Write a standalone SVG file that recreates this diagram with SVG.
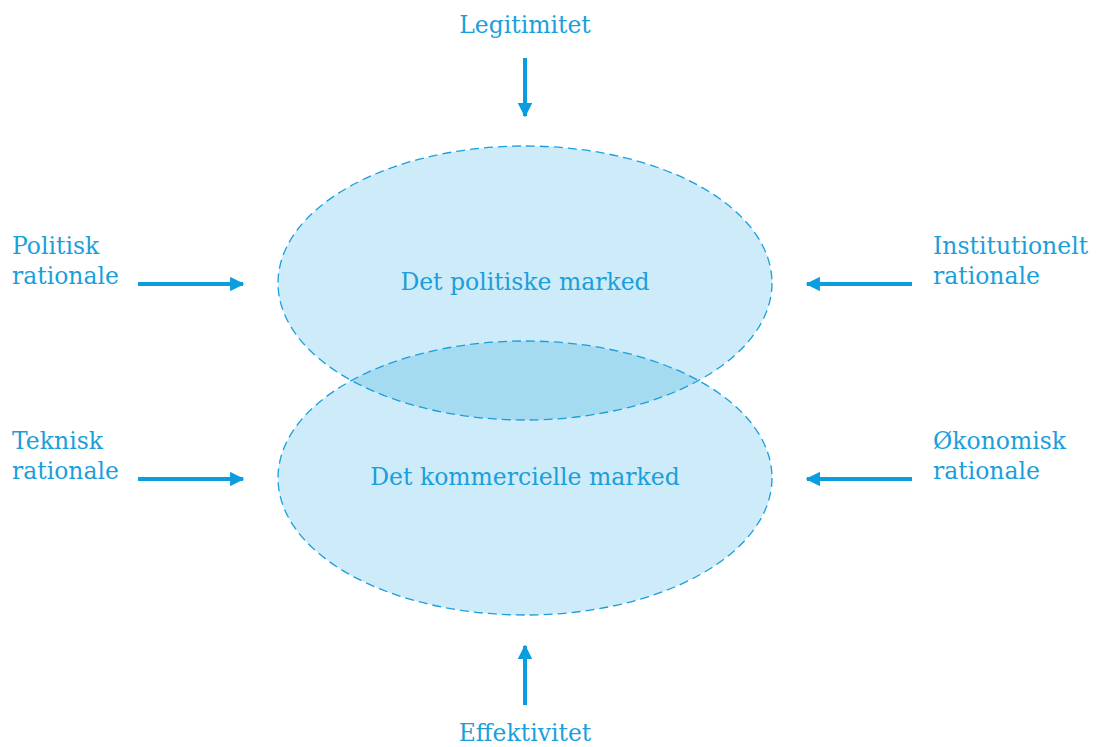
<svg xmlns="http://www.w3.org/2000/svg" width="1100" height="747" viewBox="0 0 1100 747">
<style>
text{font-family:"DejaVu Serif","Liberation Serif",serif;font-size:23.5px;fill:#1a9fdc}
.c{text-anchor:middle}
.ell{fill:none;stroke:#1a9fdc;stroke-width:1.3;stroke-dasharray:9 5}
.arr{stroke:#0a9ddf;stroke-width:4;fill:none;marker-end:url(#ah)}
</style>
<defs>
<marker id="ah" viewBox="0 0 10 10" refX="9" refY="5" markerWidth="3.6" markerHeight="3.6" orient="auto" markerUnits="strokeWidth">
<path d="M0,0 L10,5 L0,10 z" fill="#0a9ddf"/>
</marker>
<clipPath id="topclip"><ellipse cx="525" cy="283" rx="247" ry="137"/></clipPath>
</defs>
<rect width="1100" height="747" fill="#fff"/>
<g id="market-commercial">
<ellipse cx="525" cy="478" rx="247" ry="137" fill="#cdebf8"/>
</g>
<g id="market-political">
<ellipse cx="525" cy="283" rx="247" ry="137" fill="#cdebf8"/>
</g>
<g id="overlap">
<ellipse cx="525" cy="478" rx="247" ry="137" fill="#a4dbf1" clip-path="url(#topclip)"/>
</g>
<g id="outlines">
<ellipse class="ell" cx="525" cy="283" rx="247" ry="137"/>
<ellipse class="ell" cx="525" cy="478" rx="247" ry="137"/>
<text class="c" x="525" y="290">Det politiske marked</text>
<text class="c" x="525" y="485">Det kommercielle marked</text>
</g>
<g id="connectors">
<line class="arr" x1="525" y1="58" x2="525" y2="116"/>
<line class="arr" x1="525" y1="705" x2="525" y2="646"/>
<line class="arr" x1="138" y1="284" x2="243" y2="284"/>
<line class="arr" x1="138" y1="479" x2="243" y2="479"/>
<line class="arr" x1="912" y1="284" x2="807" y2="284"/>
<line class="arr" x1="912" y1="479" x2="807" y2="479"/>
</g>
<g id="legitimitet"><text class="c" x="525" y="33">Legitimitet</text></g>
<g id="effektivitet"><text class="c" x="525" y="741">Effektivitet</text></g>
<g id="politisk"><text x="12" y="254">Politisk</text><text x="12" y="284">rationale</text></g>
<g id="teknisk"><text x="12" y="449">Teknisk</text><text x="12" y="479">rationale</text></g>
<g id="institutionelt"><text x="933" y="254">Institutionelt</text><text x="933" y="284">rationale</text></g>
<g id="okonomisk"><text x="933" y="449">Økonomisk</text><text x="933" y="479">rationale</text></g>
</svg>
